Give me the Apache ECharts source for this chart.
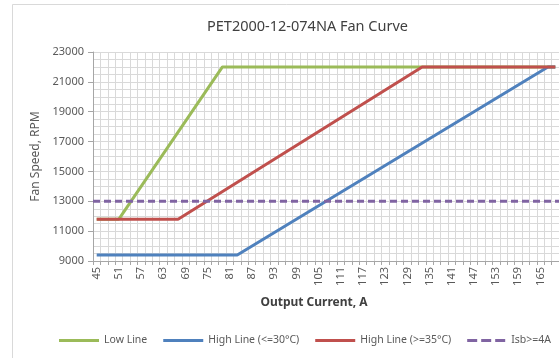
<!DOCTYPE html>
<html>
<head>
<meta charset="utf-8">
<script src="https://cdn.jsdelivr.net/npm/echarts@6/dist/echarts.min.js"></script>
<style>
html,body{margin:0;padding:0;background:#fff;}
#c{width:559px;height:358px;}
</style>
</head>
<body>
<div id="c"></div>
<script>
// Categories on the x axis (output current, A)
var categories = [];
for (var a = 45; a <= 169; a += 2) categories.push(String(a));

// Series breakpoints [current A, fan speed RPM]
var lowLine = [[45, 11800], [51, 11800], [79, 22000], [169, 22000]];
var highLine30 = [[45, 9400], [83, 9400], [167, 22000], [169, 22000]];
var highLine35 = [[45, 11800], [67, 11800], [133, 22000], [169, 22000]];
var isb4A = [[44, 13000], [170, 13000]];

var seriesNames = ['Low Line', 'High Line (<=30°C)', 'High Line (>=35°C)', 'Isb>=4A'];
var titleText = 'PET2000-12-074NA Fan Curve';
var yAxisName = 'Fan Speed, RPM';
var xAxisName = 'Output Current, A';

var FONT = 'Noto Sans';
var SOLID = 'path://M0,0H40V3H0Z';
var DASHED = 'path://M0,0H10V3H0Z M14,0H24V3H14Z M28,0H38V3H28Z';
var chart = echarts.init(document.getElementById('c'), null, {renderer: 'canvas'});
chart.setOption({
  animation: false,
  backgroundColor: '#fff',
  textStyle: {fontFamily: FONT},
  graphic: [{
    type: 'rect', left: 10, top: 2, silent: true,
    shape: {width: 560, height: 354},
    style: {fill: 'none', stroke: '#d9d9d9', lineWidth: 1}
  }],
  title: {
    text: titleText, left: 202, top: 14,
    textStyle: {fontFamily: FONT, fontSize: 14.5, fontWeight: 'normal', color: '#404040'}
  },
  grid: {left: 93, right: -7, top: 52, bottom: 97, containLabel: false},
  legend: {
    data: [
      {name: seriesNames[0], icon: SOLID},
      {name: seriesNames[1], icon: SOLID},
      {name: seriesNames[2], icon: SOLID},
      {name: seriesNames[3], icon: DASHED}
    ],
    left: 54, top: 330,
    itemWidth: 40, itemHeight: 3, itemGap: 16,
    textStyle: {fontFamily: FONT, fontSize: 10.5, color: '#595959'}
  },
  xAxis: [{
    type: 'category', data: categories, boundaryGap: true,
    name: xAxisName, nameLocation: 'middle', nameGap: 36,
    nameTextStyle: {fontFamily: FONT, fontSize: 12, fontWeight: 'bold', color: '#404040', padding: [0, 0, 0, -24]},
    axisLine: {show: true, lineStyle: {color: '#a6a6a6'}},
    axisTick: {show: true, interval: 0, length: 4, lineStyle: {color: '#a6a6a6'}},
    axisLabel: {interval: 2, rotate: 90, fontSize: 11, color: '#595959', margin: 6},
    splitLine: {show: true, interval: 0, lineStyle: {color: '#d9d9d9', width: 1}}
  }, {
    type: 'value', min: 44, max: 170, show: false
  }],
  yAxis: {
    type: 'value', min: 9000, max: 23000, interval: 2000,
    name: yAxisName, nameLocation: 'middle', nameGap: 46,
    nameTextStyle: {fontFamily: FONT, fontSize: 12, color: '#595959'},
    axisLine: {show: true, lineStyle: {color: '#a6a6a6'}},
    axisTick: {show: true, length: 5, lineStyle: {color: '#a6a6a6'}},
    axisLabel: {fontSize: 11, color: '#595959', margin: 9, formatter: function (v) { return String(v); }},
    splitLine: {show: true, lineStyle: {color: '#d9d9d9', width: 1}},
    minorTick: {show: false, splitNumber: 4},
    minorSplitLine: {show: true, lineStyle: {color: '#d9d9d9', width: 1}}
  },
  series: [
    {name: seriesNames[0], type: 'line', xAxisIndex: 1, data: lowLine, symbol: 'none',
     lineStyle: {color: '#9bbb59', width: 3}, itemStyle: {color: '#9bbb59'}, z: 2},
    {name: seriesNames[1], type: 'line', xAxisIndex: 1, data: highLine30, symbol: 'none',
     lineStyle: {color: '#4f81bd', width: 3}, itemStyle: {color: '#4f81bd'}, z: 3},
    {name: seriesNames[2], type: 'line', xAxisIndex: 1, data: highLine35, symbol: 'none',
     lineStyle: {color: '#c0504d', width: 3}, itemStyle: {color: '#c0504d'}, z: 4},
    {name: seriesNames[3], type: 'line', xAxisIndex: 1, data: isb4A, symbol: 'none',
     lineStyle: {color: '#8064a2', width: 3, type: [7, 4]}, itemStyle: {color: '#8064a2'}, z: 5}
  ]
});
</script>
</body>
</html>
